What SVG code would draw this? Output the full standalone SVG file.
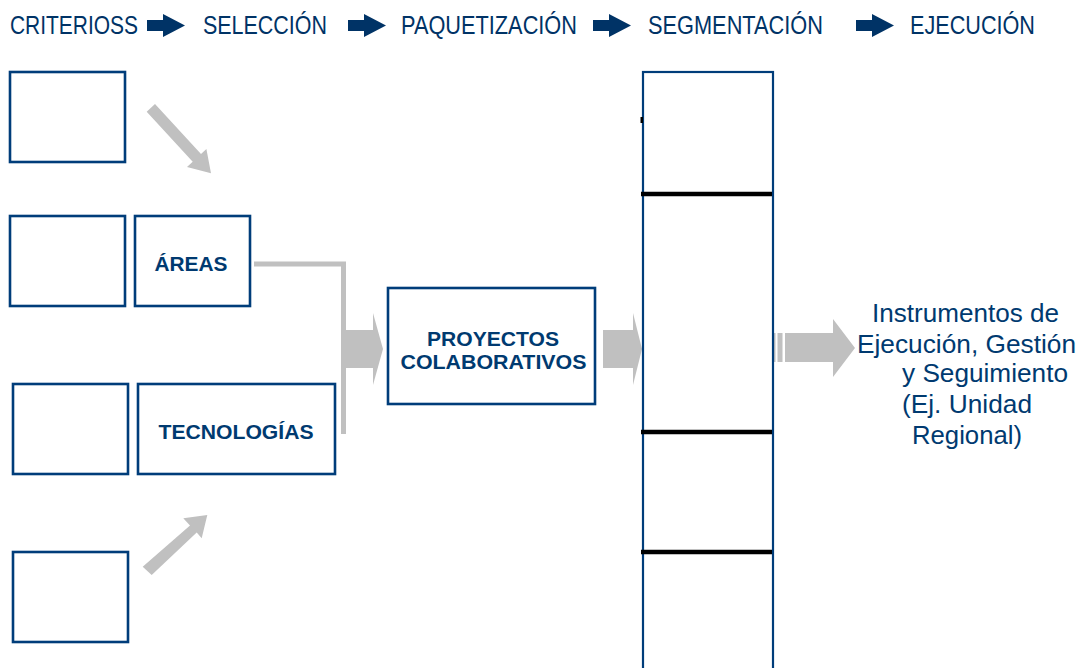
<svg xmlns="http://www.w3.org/2000/svg" width="1085" height="668" viewBox="0 0 1085 668">
<style>
.hdr{font-family:"Liberation Sans",Arial,sans-serif;font-size:26px;fill:#003366;}
.lbl{font-family:"Liberation Sans",Arial,sans-serif;font-size:21px;font-weight:bold;fill:#003A70;text-anchor:middle;}
.out{font-family:"Liberation Sans",Arial,sans-serif;font-size:26px;fill:#003A70;}
.box{fill:#ffffff;stroke:#003D7A;stroke-width:2.6;}
.col{fill:#ffffff;stroke:#003D7A;stroke-width:2.2;}
.harr{fill:#003366;}
.garr{fill:#C0C0C0;}
.sep{stroke:#000000;stroke-width:4.5;}
</style>
<defs>
<path id="harrow" d="M0,20 H16 V14 L38,25.5 L16,37 V31 H0 Z"/>
</defs>
<rect width="1085" height="668" fill="#ffffff"/>

<g id="header">
<text class="hdr" x="10" y="34" textLength="128" lengthAdjust="spacingAndGlyphs">CRITERIOSS</text>
<use href="#harrow" class="harr" x="147" y="0"/>
<text class="hdr" x="203" y="34" textLength="124" lengthAdjust="spacingAndGlyphs">SELECCIÓN</text>
<use href="#harrow" class="harr" x="348" y="0"/>
<text class="hdr" x="401" y="34" textLength="176" lengthAdjust="spacingAndGlyphs">PAQUETIZACIÓN</text>
<use href="#harrow" class="harr" x="593" y="0"/>
<text class="hdr" x="648" y="34" textLength="175" lengthAdjust="spacingAndGlyphs">SEGMENTACIÓN</text>
<use href="#harrow" class="harr" x="856" y="0"/>
<text class="hdr" x="910" y="34" textLength="125" lengthAdjust="spacingAndGlyphs">EJECUCIÓN</text>
</g>

<g id="connectors">
<polygon class="garr" points="155,104 201,154 206.4,149.1 211,173.3 187,166.9 192.7,161.7 146.7,111.7"/>
<polygon class="garr" points="142.7,566.7 190,525.5 183.3,518.3 207.3,515 201.7,538.3 196.7,532.5 151.7,575"/>
<path d="M254,264 H343.5 V434" fill="none" stroke="#C0C0C0" stroke-width="5"/>
<polygon class="garr" points="346,330 373,330 373,313 383,349 373,385 373,368 346,368"/>
<polygon class="garr" points="603,330 633,330 633,313 642,349 633,385 633,368 603,368"/>
<rect class="garr" x="772" y="333" width="3.5" height="29"/>
<rect class="garr" x="777.5" y="333" width="5" height="29"/>
<polygon class="garr" points="785,333 833,333 833,319 855,348 833,377 833,362 785,362"/>
</g>

<g id="crit1"><rect class="box" x="10" y="72" width="115" height="90"/></g>
<g id="crit2"><rect class="box" x="10" y="216" width="115" height="90"/></g>
<g id="areas"><rect class="box" x="135" y="216" width="115" height="90"/>
<text class="lbl" x="191" y="271" textLength="73" lengthAdjust="spacingAndGlyphs">ÁREAS</text></g>
<g id="crit3"><rect class="box" x="13" y="384" width="115" height="90"/></g>
<g id="tecnologias"><rect class="box" x="138" y="384" width="197" height="90"/>
<text class="lbl" x="236" y="439" textLength="155" lengthAdjust="spacingAndGlyphs">TECNOLOGÍAS</text></g>
<g id="crit4"><rect class="box" x="13" y="552" width="115" height="90"/></g>

<g id="proyectos"><rect class="box" x="388" y="288" width="207" height="116"/>
<text class="lbl" x="493" y="346" textLength="132" lengthAdjust="spacingAndGlyphs">PROYECTOS</text>
<text class="lbl" x="493.5" y="369" textLength="186" lengthAdjust="spacingAndGlyphs">COLABORATIVOS</text></g>

<g id="segmentacion">
<rect class="col" x="643" y="72" width="130" height="620"/>
<rect x="640.5" y="117" width="2.5" height="6" fill="#000000"/>
<line class="sep" x1="641" y1="194" x2="772" y2="194"/>
<line class="sep" x1="641" y1="432" x2="772" y2="432"/>
<line class="sep" x1="641" y1="552" x2="772" y2="552"/>
</g>

<g id="instrumentos">
<text class="out" x="872" y="322" textLength="187" lengthAdjust="spacingAndGlyphs">Instrumentos de</text>
<text class="out" x="857" y="353" textLength="219" lengthAdjust="spacingAndGlyphs">Ejecución, Gestión</text>
<text class="out" x="902" y="382" textLength="166" lengthAdjust="spacingAndGlyphs">y Seguimiento</text>
<text class="out" x="902" y="413" textLength="130" lengthAdjust="spacingAndGlyphs">(Ej. Unidad</text>
<text class="out" x="912" y="444" textLength="110" lengthAdjust="spacingAndGlyphs">Regional)</text>
</g>
</svg>
